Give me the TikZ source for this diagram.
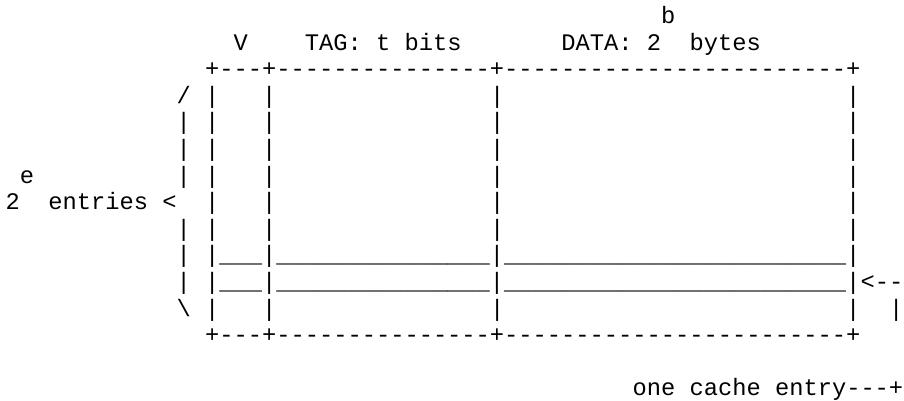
\documentclass[tikz,border=0pt]{standalone}
\usepackage{fontspec}
\setmonofont{Liberation Mono}
\ExplSyntaxOn
\NewDocumentCommand\asciirep{mm}{\prg_replicate:nn{#1}{#2}}
\ExplSyntaxOff
\newcommand\framerule{+\asciirep{3}{-}+\asciirep{15}{-}+\asciirep{24}{-}+}
\newcommand\framerow{|\asciirep{3}{~}|\asciirep{15}{~}|\asciirep{24}{~}|}
\newcommand\framefill{|\asciirep{3}{\_}|\asciirep{15}{\_}|\asciirep{24}{\_}|}
\begin{document}
\begin{tikzpicture}[x=14.25pt,y=-26.6pt,
    every node/.style={anchor=base west,inner sep=0pt,outer sep=0pt,
      font=\ttfamily\fontsize{23.74}{26.6}\selectfont}]
  \path[use as bounding box] (-0.393,-0.88) rectangle (63.046,14.158);
  \path
    (46,0) node (bexp){b}
    (16,1) node (vhead){V}
    (21,1) node (taghead){TAG:~t~bits}
    (39,1) node (datahead){DATA:~2}
    (48,1) node (bytes){bytes}
    (14,2) node (top){\framerule}
    (12,3) node (braceup){/}
    (14,3) node (row3){\framerow}
    (12,4) node (brace4){|}
    (14,4) node (row4){\framerow}
    (12,5) node (brace5){|}
    (14,5) node (row5){\framerow}
    (1,6) node (expe){e}
    (12,6) node (brace6){|}
    (14,6) node (row6){\framerow}
    (0,7) node (entries){2~~entries~<}
    (14,7) node (row7){\framerow}
    (12,8) node (brace8){|}
    (14,8) node (row8){\framerow}
    (12,9) node (brace9){|}
    (14,9) node (row9){\framefill}
    (12,10) node (brace10){|}
    (14,10) node (row10){\framefill}
    (60,10) node (pointer){<--}
    (12,11) node (bracedown){\textbackslash}
    (14,11) node (row11){\framerow}
    (62,11) node (pointbar){|}
    (14,12) node (bottom){\framerule}
    (44,14) node (entry){one~cache~entry---+};
\end{tikzpicture}
\end{document}
